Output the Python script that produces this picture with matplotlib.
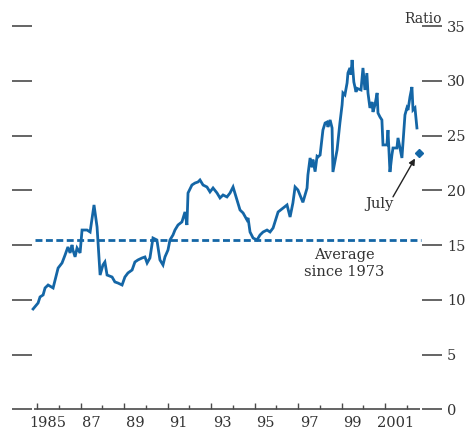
import numpy as np
import matplotlib
matplotlib.use('Agg')
import matplotlib.pyplot as plt
import matplotlib.transforms as mtransforms

plt.rcParams['font.family'] = 'DejaVu Serif'

# Monthly ratio
years = [1984.82, 1985.05, 1985.14, 1985.28, 1985.37, 1985.51, 1985.74, 1985.97,
         1986.15, 1986.29, 1986.42, 1986.52, 1986.61, 1986.65, 1986.75, 1986.84, 1986.98,
         1987.07, 1987.30, 1987.44, 1987.62, 1987.76, 1987.90,
         1988.03, 1988.12, 1988.22, 1988.45, 1988.58, 1988.72, 1988.91,
         1989.04, 1989.18, 1989.37, 1989.50, 1989.64, 1989.83, 1989.96,
         1990.06, 1990.19, 1990.33, 1990.51, 1990.65, 1990.79, 1990.88,
         1991.02, 1991.11, 1991.25, 1991.34, 1991.48, 1991.66, 1991.80, 1991.89, 1991.94,
         1992.12, 1992.26, 1992.40, 1992.49, 1992.63, 1992.81, 1992.95,
         1993.09, 1993.27, 1993.41, 1993.55, 1993.73, 1993.87,
         1994.01, 1994.19, 1994.33, 1994.47, 1994.65, 1994.70, 1994.79, 1994.93,
         1995.11, 1995.25, 1995.39, 1995.57, 1995.71, 1995.85,
         1996.08, 1996.31, 1996.49, 1996.63, 1996.76, 1996.86, 1996.99,
         1997.22, 1997.41, 1997.45, 1997.55, 1997.64, 1997.68, 1997.78, 1997.87, 1997.91,
         1998.01, 1998.10, 1998.14, 1998.24, 1998.33, 1998.37, 1998.47, 1998.56, 1998.60,
         1998.79, 1998.92,
         1999.02, 1999.06, 1999.15, 1999.25, 1999.29, 1999.38, 1999.43, 1999.48, 1999.56,
         1999.66, 1999.71, 1999.89, 1999.98,
         2000.07, 2000.16, 2000.21, 2000.30, 2000.40, 2000.44, 2000.53, 2000.63, 2000.67,
         2000.76, 2000.85, 2000.90,
         2001.08, 2001.13, 2001.22, 2001.31, 2001.36, 2001.54, 2001.59, 2001.77, 2001.91,
         2002.00, 2002.05, 2002.14, 2002.23, 2002.28, 2002.37, 2002.46]
ratio = [9.16, 9.71, 10.26, 10.44, 11.08, 11.35, 11.08, 12.90,
         13.36, 14.09, 14.82, 14.28, 15.01, 14.55, 13.92, 14.73, 14.28,
         16.37, 16.37, 16.19, 18.66, 16.65, 12.26,
         13.18, 13.45, 12.26, 12.08, 11.63, 11.53, 11.35,
         12.08, 12.45, 12.72, 13.45, 13.64, 13.82, 13.91,
         13.36, 13.82, 15.64, 15.46, 13.64, 13.18, 13.91,
         14.55, 15.46, 15.92, 16.37, 16.83, 17.11, 18.02, 16.83, 19.75,
         20.48, 20.66, 20.76, 20.94, 20.48, 20.30, 19.85,
         20.21, 19.76, 19.30, 19.57, 19.39, 19.75,
         20.30, 19.12, 18.20, 17.93, 17.29, 17.47, 16.19, 15.64,
         15.46, 15.92, 16.19, 16.37, 16.19, 16.56,
         18.02, 18.38, 18.66, 17.56, 18.84, 20.30, 20.03,
         18.90, 20.20, 21.40, 22.95, 22.10, 22.80, 21.70, 23.10, 23.04,
         23.22, 24.77, 25.50, 26.14, 26.23, 25.78, 26.42, 25.69, 21.67,
         23.68, 26.14,
         27.79, 28.89, 28.71, 29.80, 30.71, 31.17, 30.55, 31.90, 29.89,
         28.98, 29.30, 29.16, 31.17,
         29.16, 30.70, 28.89, 27.52, 28.06, 27.15, 27.79, 28.89, 27.06,
         26.70, 26.42, 24.14,
         24.14, 25.50, 21.67, 23.22, 23.86, 23.86, 24.78, 22.95, 26.88,
         27.52, 27.33, 28.52, 29.43, 27.33, 27.52, 25.69]

july_year = 2002.54
july_value = 23.4
average = 15.5

major_years = [1985, 1987, 1989, 1991, 1993, 1995, 1997, 1999, 2001]
minor_years = [1986, 1988, 1990, 1992, 1994, 1996, 1998, 2000, 2002]
year_labels = ['1985', '87', '89', '91', '93', '95', '97', '99', '2001']
y_ticks = [0, 5, 10, 15, 20, 25, 30, 35]

blue = '#1466a6'
grey = '#4a4a4a'
text_col = '#333333'

fig = plt.figure(figsize=(4.67, 4.32), dpi=100)
ax = fig.add_axes([12/467, (432-409.3)/432, 430/467, 383.3/432])
ax.set_xlim(1983.851, 2003.612)
ax.set_ylim(0, 35)
for s in ax.spines.values():
    s.set_visible(False)

ax.plot(years, ratio, color=blue, lw=2.0, solid_joinstyle='miter', clip_on=False)
ax.plot([july_year], [july_value], marker='D', color=blue, ms=4.2, clip_on=False)
ax.hlines(average, 1984.91, 2002.65, colors=blue, lw=2.0, linestyles=(0, (2.5, 1.25)))

# baseline between the left and right ratio ticks
ax.hlines(0, 1984.85, 2002.60, colors=grey, lw=1.2, clip_on=False)

# y ticks on both sides, labels on the right
ax.set_yticks(y_ticks)
ax.tick_params(axis='y', which='major', direction='in', left=True, right=True,
               labelleft=False, labelright=True, length=14.4, width=1.2,
               color=grey, labelsize=10.5, labelcolor=text_col, pad=3.5)
for lbl in ax.get_yticklabels():
    lbl.set_horizontalalignment('left')

# year ticks
ax.set_xticks(major_years)
ax.set_xticks(minor_years, minor=True)
ax.tick_params(axis='x', which='major', direction='in', length=4.5, width=1.0,
               color=grey, labelbottom=False)
ax.tick_params(axis='x', which='minor', direction='in', length=2.8, width=1.0,
               color=grey, labelbottom=False)
trans = mtransforms.blended_transform_factory(ax.transData, ax.transAxes)
for yr, lab in zip(major_years, year_labels):
    ax.text(yr + 0.5, -0.036, lab, transform=trans, ha='center', va='center',
            fontsize=10.5, color=text_col)

trans_r = mtransforms.blended_transform_factory(ax.transAxes, ax.transData)
ax.text(1.0, 35.3, 'Ratio', transform=trans_r, ha='right', va='baseline',
        fontsize=10, color=text_col)

ax.text(1999.11, 14.1, 'Average', ha='center', va='center', fontsize=10.5, color=text_col)
ax.text(1999.11, 12.55, 'since 1973', ha='center', va='center', fontsize=10.5, color=text_col)

ax.text(2000.72, 18.75, 'July', ha='center', va='center', fontsize=10.5, color=text_col)
ax.annotate('', xy=(2002.37, 22.9), xytext=(2001.36, 19.4),
            arrowprops=dict(arrowstyle='-|>', color='#222222', lw=1.0,
                            mutation_scale=9, shrinkA=0, shrinkB=0))

fig.savefig('out.png', dpi=100)
